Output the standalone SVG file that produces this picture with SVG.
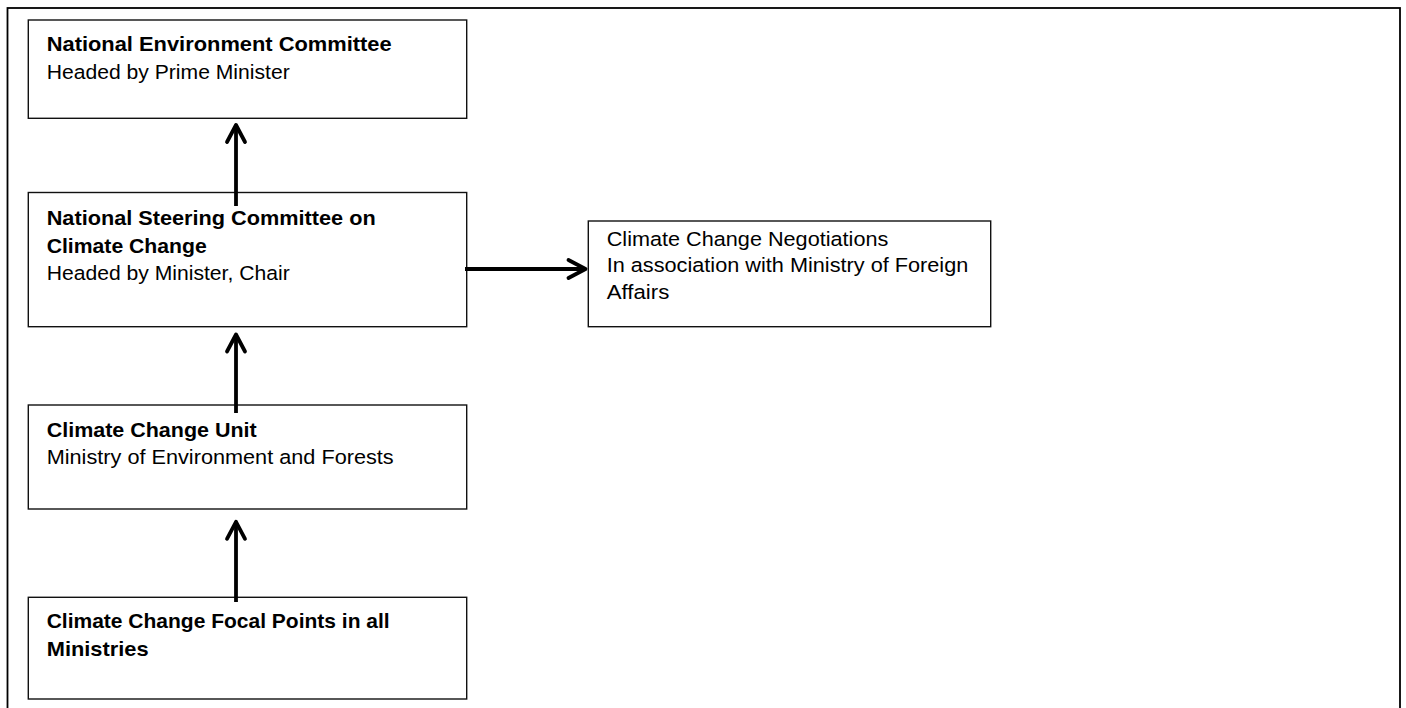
<svg xmlns="http://www.w3.org/2000/svg" width="1406" height="708" viewBox="0 0 1406 708">
<style>
.box{fill:#fff;stroke:#111;stroke-width:1.4}
.t{font-family:"Liberation Sans",Arial,sans-serif;font-size:20.5px;fill:#000}
.b{font-weight:bold}
.conn{stroke:#000;stroke-width:3.8;fill:none}
</style>
<defs>
<marker id="chev" markerUnits="userSpaceOnUse" viewBox="-22 -13 26 26" markerWidth="26" markerHeight="26" refX="0" refY="0" orient="auto" overflow="visible">
<path d="M -17 -9 L 0 0 L -17 9" fill="none" stroke="#000" stroke-width="3.8" stroke-linejoin="round" stroke-linecap="round"/>
</marker>
</defs>
<rect x="0" y="0" width="1406" height="708" fill="#fff"/>
<rect x="7.5" y="8" width="1392.5" height="720" fill="none" stroke="#000" stroke-width="1.8"/>

<g id="node-nec">
<rect class="box" x="28.3" y="20" width="438.4" height="98.3"/>
<text class="t b" x="46.7" y="51" textLength="345" lengthAdjust="spacingAndGlyphs">National Environment Committee</text>
<text class="t" x="46.7" y="78.5" textLength="243" lengthAdjust="spacingAndGlyphs">Headed by Prime Minister</text>
</g>

<g id="node-nsccc">
<rect class="box" x="28.3" y="192.5" width="438.4" height="134.2"/>
<text class="t b" x="46.7" y="225" textLength="329" lengthAdjust="spacingAndGlyphs">National Steering Committee on</text>
<text class="t b" x="46.7" y="252.5" textLength="160" lengthAdjust="spacingAndGlyphs">Climate Change</text>
<text class="t" x="46.7" y="280" textLength="243" lengthAdjust="spacingAndGlyphs">Headed by Minister, Chair</text>
</g>

<g id="node-negotiations">
<rect class="box" x="588.3" y="221" width="402.4" height="105.7"/>
<text class="t" x="606.7" y="245.5" textLength="281.6" lengthAdjust="spacingAndGlyphs">Climate Change Negotiations</text>
<text class="t" x="606.7" y="272" textLength="361.6" lengthAdjust="spacingAndGlyphs">In association with Ministry of Foreign</text>
<text class="t" x="606.7" y="299" textLength="62.6" lengthAdjust="spacingAndGlyphs">Affairs</text>
</g>

<g id="node-ccu">
<rect class="box" x="28.3" y="405" width="438.4" height="104"/>
<text class="t b" x="46.7" y="436.7" textLength="210" lengthAdjust="spacingAndGlyphs">Climate Change Unit</text>
<text class="t" x="46.7" y="463.5" textLength="347" lengthAdjust="spacingAndGlyphs">Ministry of Environment and Forests</text>
</g>

<g id="node-focal">
<rect class="box" x="28.3" y="597.3" width="438.4" height="101.7"/>
<text class="t b" x="46.7" y="628.3" textLength="343" lengthAdjust="spacingAndGlyphs">Climate Change Focal Points in all</text>
<text class="t b" x="46.7" y="655.5" textLength="102" lengthAdjust="spacingAndGlyphs">Ministries</text>
</g>

<g id="connectors">
<line class="conn" x1="236" y1="206" x2="236" y2="125" marker-end="url(#chev)"/>
<line class="conn" x1="236" y1="413" x2="236" y2="334.5" marker-end="url(#chev)"/>
<line class="conn" x1="236" y1="602" x2="236" y2="521.8" marker-end="url(#chev)"/>
<line class="conn" x1="465" y1="269" x2="585.5" y2="269" marker-end="url(#chev)"/>
</g>
</svg>
